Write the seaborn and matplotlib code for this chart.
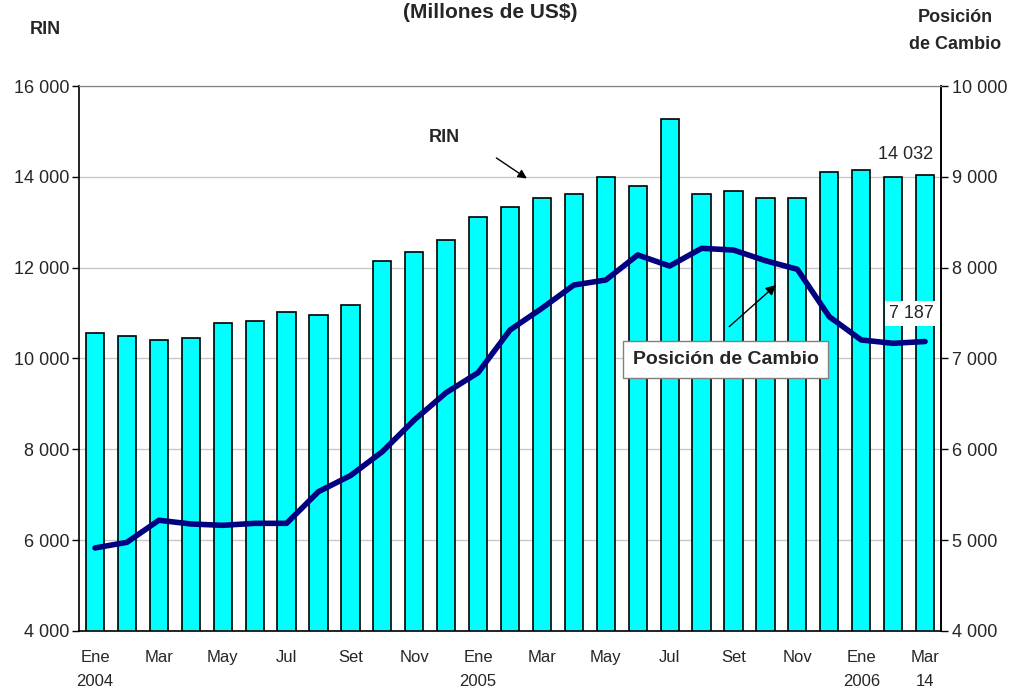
import numpy as np
import pandas as pd
import matplotlib
matplotlib.use("Agg")
import matplotlib.pyplot as plt
import seaborn as sns
from matplotlib.ticker import FuncFormatter, FixedLocator

# monthly data, Ene 2004 .. Mar 14 2006
meses = ["Ene04", "Feb04", "Mar04", "Abr04", "May04", "Jun04", "Jul04", "Ago04",
         "Set04", "Oct04", "Nov04", "Dic04", "Ene05", "Feb05", "Mar05", "Abr05",
         "May05", "Jun05", "Jul05", "Ago05", "Set05", "Oct05", "Nov05", "Dic05",
         "Ene06", "Feb06", "Mar06"]
rin = [10560, 10490, 10415, 10460, 10790, 10835, 11030, 10950, 11180, 12150,
       12340, 12610, 13115, 13340, 13540, 13615, 13990, 13800, 15265, 13615,
       13690, 13540, 13540, 14110, 14150, 13990, 14032]
posicion = [4914, 4976, 5219, 5178, 5163, 5185, 5185, 5534, 5710, 5974,
            6323, 6624, 6844, 7314, 7553, 7809, 7864, 8140, 8018, 8213,
            8194, 8077, 7982, 7460, 7204, 7167, 7187]
tick_labels = ["Ene\n2004", "Mar", "May", "Jul", "Set", "Nov", "Ene\n2005",
               "Mar", "May", "Jul", "Set", "Nov", "Ene\n2006", "Mar\n14"]

df = pd.DataFrame({"mes": meses, "rin": rin, "pos": posicion})
df["x"] = np.arange(len(df))

sns.set_style("white")
plt.rcParams["font.family"] = ["Liberation Sans", "DejaVu Sans"]
plt.rcParams["font.size"] = 13

fig = plt.figure(figsize=(10.16, 6.92), dpi=100)
ax = fig.add_axes([0.0778, 0.0882, 0.8484, 0.7875])

sns.barplot(data=df, x="mes", y="rin", color="#00FFFF", edgecolor="black",
            linewidth=1.2, width=0.57, saturation=1, ax=ax, zorder=2)
ax.set_ylim(4000, 16000)
ax.set_xlim(-0.5, len(df) - 0.5)
ax.set_yticks(np.arange(4000, 16001, 2000))
fmt = FuncFormatter(lambda v, p: f"{v:,.0f}".replace(",", " "))
ax.yaxis.set_major_formatter(fmt)
ax.yaxis.grid(True, color="#c8c8c8", linewidth=1, zorder=0)
ax.set_axisbelow(True)
ax.set_xlabel("")
ax.set_ylabel("")

ax.set_xticks(np.arange(0, len(df), 2))
ax.set_xticklabels(tick_labels, linespacing=1.75, va="top")
ax.xaxis.set_minor_locator(FixedLocator(np.arange(-0.5, len(df), 1)))
ax.tick_params(axis="x", which="major", length=0, pad=14, labelsize=12)
ax.tick_params(axis="x", which="minor", length=5, width=1, color="black", direction="out")
ax.tick_params(axis="y", length=5, width=1, color="black", direction="out", pad=2, labelsize=13)

for s in ["left", "bottom", "right"]:
    ax.spines[s].set_color("black")
    ax.spines[s].set_linewidth(1.2)
ax.spines["top"].set_color("#808080")

ax2 = ax.twinx()
sns.lineplot(data=df, x="x", y="pos", color="#000080", linewidth=4, ax=ax2, zorder=3)
ax2.set_ylim(4000, 10000)
ax2.set_yticks(np.arange(4000, 10001, 1000))
ax2.yaxis.set_major_formatter(fmt)
ax2.tick_params(axis="y", length=5, width=1, color="black", direction="out", pad=3, labelsize=13)
ax2.set_ylabel("")
ax2.set_xlabel("")
ax2.spines["right"].set_color("black")
ax2.spines["right"].set_linewidth(1.2)
ax2.spines["top"].set_color("#808080")
ax2.spines["left"].set_visible(False)
ax2.spines["bottom"].set_visible(False)

# texts
fig.text(0.483, 0.982, "(Millones de US$)", ha="center", va="center",
         fontsize=15, fontweight="bold")
fig.text(0.045, 0.958, "RIN", ha="center", va="center", fontsize=13, fontweight="bold")
fig.text(0.940, 0.975, "Posición", ha="center", va="center", fontsize=13, fontweight="bold")
fig.text(0.940, 0.935, "de Cambio", ha="center", va="center", fontsize=13, fontweight="bold")

last = len(df) - 1
ax.annotate(f"{rin[-1]:,}".replace(",", " "), xy=(last, rin[-1]), xytext=(-14, 15),
            textcoords="offset points", ha="center", va="center", fontsize=13)
ax2.annotate(f"{posicion[-1]:,}".replace(",", " "), xy=(last, posicion[-1]), xytext=(-10, 20),
             textcoords="offset points", ha="center", va="center", fontsize=13,
             bbox=dict(facecolor="white", edgecolor="none", pad=3))

ax.annotate("", xy=(13.6, 13930), xytext=(12.5, 14450),
            arrowprops=dict(arrowstyle="-|>", color="black", lw=1, mutation_scale=13))
ax.text(10.95, 14860, "RIN", ha="center", va="center", fontsize=13, fontweight="bold")

ax2.annotate("", xy=(21.4, 7830), xytext=(19.8, 7330),
             arrowprops=dict(arrowstyle="-|>", color="black", lw=1, mutation_scale=15))
ax2.text(19.75, 6990, "Posición de Cambio", ha="center", va="center", fontsize=14,
         fontweight="bold", zorder=5,
         bbox=dict(facecolor="white", edgecolor="#808080", boxstyle="square,pad=0.5"))

fig.savefig("out.png", dpi=100)
